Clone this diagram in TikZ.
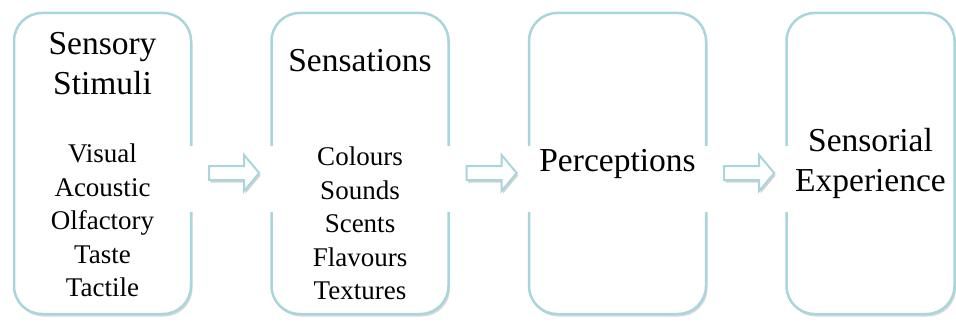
\documentclass[tikz,border=0pt]{standalone}
\usepackage{fontspec}
\setmainfont{Liberation Serif}
\usepackage{tikz}
\usetikzlibrary{shapes,arrows,positioning,calc,shadows}
\usepackage{xcolor}
\definecolor{aqualine}{RGB}{168,214,220}

\begin{document}
\begin{tikzpicture}[
    node distance=78pt,
    box/.style={rectangle, draw=aqualine, line width=2.5pt, rounded corners=28pt, fill=white,
        minimum width=177pt, minimum height=301pt,
        drop shadow={opacity=0.3, shadow xshift=1.5pt, shadow yshift=-2.5pt}},
    title/.style={font=\rmfamily\fontsize{33.5}{40}\selectfont, align=center, anchor=base, inner sep=0pt},
    items/.style={font=\rmfamily\fontsize{27}{33.5}\selectfont, align=center, anchor=base, inner sep=0pt},
    blockarrow/.style={single arrow, draw=aqualine, line width=2pt, fill=white,
        minimum height=50pt, inner sep=6pt, single arrow head extend=11pt,
        single arrow tip angle=100,
        drop shadow={opacity=0.35, shadow xshift=1.5pt, shadow yshift=-2.5pt}},
    gap/.style={fill=white}
]
    \useasboundingbox (0,0) rectangle (956pt,322pt);

    % Boxes
    \node[box] (stimuli) at (102.5pt,158.5pt) {};
    \node[box, right=of stimuli] (sensations) {};
    \node[box, right=of sensations] (perceptions) {};
    \node[box, right=of perceptions, minimum width=168pt] (experience) {};

    % White strips behind the arrows
    \fill[gap] ([xshift=-3pt,yshift=-48.5pt]stimuli.east) rectangle ([xshift=3pt,yshift=17.5pt]sensations.west);
    \fill[gap] ([xshift=-3pt,yshift=-48.5pt]sensations.east) rectangle ([xshift=3pt,yshift=17.5pt]perceptions.west);
    \fill[gap] ([xshift=-3pt,yshift=-48.5pt]perceptions.east) rectangle ([xshift=3pt,yshift=17.5pt]experience.west);

    % Texts (base = last line)
    \node[title] (stimulitxt) at ([yshift=-83pt]stimuli.north) {Sensory\\Stimuli};
    \node[items] (stimulilist) at ([yshift=-285pt]stimuli.north) {Visual\\Acoustic\\Olfactory\\Taste\\Tactile};

    \node[title] (sensationstxt) at ([yshift=-60pt]sensations.north) {Sensations};
    \node[items] (sensationslist) at ([yshift=-288pt]sensations.north) {Colours\\Sounds\\Scents\\Flavours\\Textures};

    \node[title] (perceptionstxt) at ([yshift=-160pt]perceptions.north) {Perceptions};

    \node[title] (experiencetxt) at ([yshift=-180pt]experience.north) {Sensorial\\Experience};

    % Arrows
    \node[blockarrow] (arrowA) at ($(stimuli.east)!0.5!(sensations.west)+(0,-9.5pt)$) {};
    \node[blockarrow] (arrowB) at ($(sensations.east)!0.5!(perceptions.west)+(0,-9.5pt)$) {};
    \node[blockarrow] (arrowC) at ($(perceptions.east)!0.5!(experience.west)+(0,-9.5pt)$) {};
\end{tikzpicture}
\end{document}
